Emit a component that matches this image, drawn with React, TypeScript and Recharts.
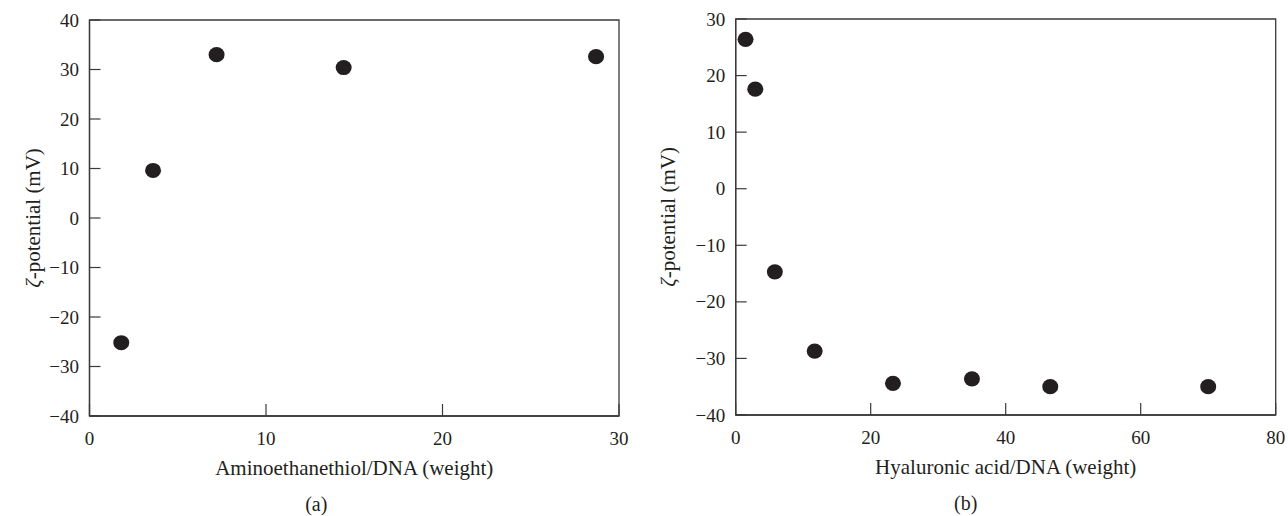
import { ScatterChart, Scatter, XAxis, YAxis, Label, ReferenceArea } from "recharts"

const aminoRatio = [1.8, 3.6, 7.2, 14.4, 28.7]
const aminoZeta = [-25.2, 9.6, 33, 30.4, 32.6]
const aminoXTicks = [0, 10, 20, 30]
const aminoYTicks = [-40, -30, -20, -10, 0, 10, 20, 30, 40]

const hyaluRatio = [1.46, 2.9, 5.8, 11.7, 23.3, 35, 46.6, 70]
const hyaluZeta = [26.4, 17.6, -14.7, -28.7, -34.4, -33.6, -35, -35]
const hyaluXTicks = [0, 20, 40, 60, 80]
const hyaluYTicks = [-40, -30, -20, -10, 0, 10, 20, 30]

const INK = "#231f20"
const AXIS = "#3a3a3a"
const FONT = "'Liberation Serif', 'DejaVu Serif', serif"

const fmt = (v: number) => (v < 0 ? "\u2212" + Math.abs(v) : String(v))

const YTick = (props: any) => {
  const { x, y, payload } = props
  return (
    <g>
      <line x1={x} x2={x + 11} y1={y} y2={y} stroke={AXIS} strokeWidth={1.2} />
      <text x={x - 10.5} y={y} textAnchor="end" dominantBaseline="central" fill={INK} fontSize={19} fontFamily={FONT}>
        {fmt(payload.value)}
      </text>
    </g>
  )
}

const XTick = (props: any) => {
  const { x, y, payload } = props
  return (
    <g>
      <line x1={x} x2={x} y1={y} y2={y - 12} stroke={AXIS} strokeWidth={1.2} />
      <text x={x} y={y + 22} textAnchor="middle" dominantBaseline="central" fill={INK} fontSize={19} fontFamily={FONT}>
        {fmt(payload.value)}
      </text>
    </g>
  )
}

const Dot = (p: any) => <ellipse cx={p.cx} cy={p.cy} rx={8} ry={7.6} fill={INK} />

type PanelProps = {
  width: number
  margin: { top: number; right: number; bottom: number; left: number }
  xs: number[]
  ys: number[]
  xTicks: number[]
  yTicks: number[]
  xLabel: string
  tag: string
  tagShift: number
  yLabelGap: number
}

function Panel({ width, margin, xs, ys, xTicks, yTicks, xLabel, tag, tagShift, yLabelGap }: PanelProps) {
  const data = xs.map((x, i) => ({ x, y: ys[i] }))
  const x0 = xTicks[0]
  const x1 = xTicks[xTicks.length - 1]
  const y0 = yTicks[0]
  const y1 = yTicks[yTicks.length - 1]
  return (
    <ScatterChart width={width} height={516} margin={margin}>
      <XAxis
        type="number"
        dataKey="x"
        domain={[x0, x1]}
        ticks={xTicks}
        height={30}
        tickSize={0}
        tickMargin={0}
        tickLine={false}
        tick={<XTick />}
        axisLine={{ stroke: AXIS, strokeWidth: 1.3 }}
        interval={0}
      >
        <Label
          content={(lp: any) => {
            const vb = lp.viewBox
            const cx = vb.x + vb.width / 2
            return (
              <g fontFamily={FONT} fill={INK}>
                <text x={cx} y={vb.y + 59} textAnchor="middle" fontSize={21}>
                  {xLabel}
                </text>
                <text x={cx + tagShift} y={vb.y + 95} textAnchor="middle" fontSize={20}>
                  {tag}
                </text>
              </g>
            )
          }}
        />
      </XAxis>
      <YAxis
        type="number"
        dataKey="y"
        domain={[y0, y1]}
        ticks={yTicks}
        width={60}
        tickSize={0}
        tickMargin={0}
        tickLine={false}
        tick={<YTick />}
        axisLine={{ stroke: AXIS, strokeWidth: 1.3 }}
        interval={0}
      >
        <Label
          content={(lp: any) => {
            const vb = lp.viewBox
            const cx = vb.x + vb.width - yLabelGap
            const cy = vb.y + vb.height / 2
            return (
              <text
                x={cx}
                y={cy}
                transform={`rotate(-90 ${cx} ${cy})`}
                textAnchor="middle"
                dominantBaseline="central"
                fontFamily={FONT}
                fontSize={21}
                fill={INK}
              >
                <tspan fontStyle="italic">ζ</tspan>-potential (mV)
              </text>
            )
          }}
        />
      </YAxis>
      <ReferenceArea x1={x0} x2={x1} y1={y0} y2={y1} fill="none" stroke={AXIS} strokeWidth={1.3} ifOverflow="visible" />
      <Scatter data={data} shape={<Dot />} isAnimationActive={false} />
    </ScatterChart>
  )
}

export default function App() {
  return (
    <div style={{ position: "absolute", left: 0, top: 0, width: 1288, height: 516, background: "#fff", display: "flex" }}>
      <Panel
        width={640}
        margin={{ top: 20, right: 21, bottom: 70, left: 29.5 }}
        xs={aminoRatio}
        ys={aminoZeta}
        xTicks={aminoXTicks}
        yTicks={aminoYTicks}
        xLabel="Aminoethanethiol/DNA (weight)"
        tag="(a)"
        tagShift={-38}
        yLabelGap={57}
      />
      <Panel
        width={648}
        margin={{ top: 19, right: 12.3, bottom: 71, left: 35.7 }}
        xs={hyaluRatio}
        ys={hyaluZeta}
        xTicks={hyaluXTicks}
        yTicks={hyaluYTicks}
        xLabel="Hyaluronic acid/DNA (weight)"
        tag="(b)"
        tagShift={-40}
        yLabelGap={68}
      />
    </div>
  )
}
